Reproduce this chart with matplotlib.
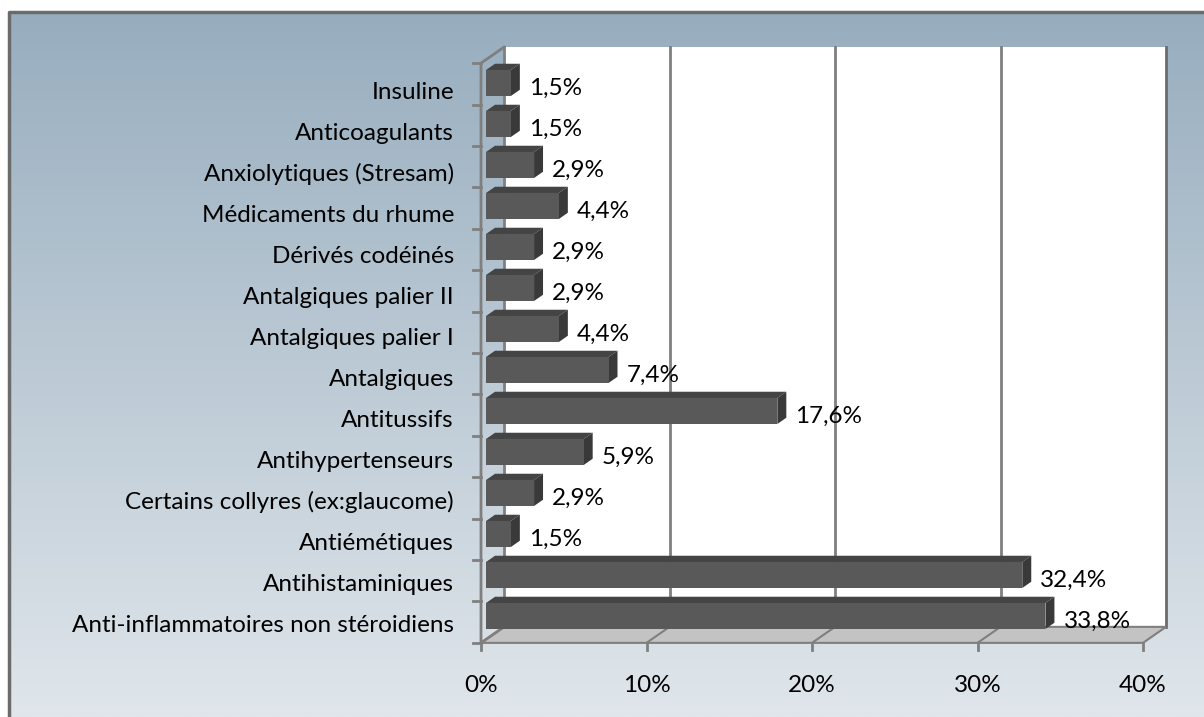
import matplotlib.pyplot as plt
import numpy as np
from matplotlib.patches import Polygon, Rectangle

plt.rcParams['font.family'] = ['Lato', 'DejaVu Sans']
fs = 17.5

# top to bottom, as in the picture
categories = ["Insuline", "Anticoagulants", "Anxiolytiques (Stresam)",
              "Médicaments du rhume", "Dérivés codéinés", "Antalgiques palier II",
              "Antalgiques palier I", "Antalgiques", "Antitussifs",
              "Antihypertenseurs", "Certains collyres (ex:glaucome)",
              "Antiémétiques", "Antihistaminiques",
              "Anti-inflammatoires non stéroidiens"]
values = [1.5, 1.5, 2.9, 4.4, 2.9, 2.9, 4.4, 7.4, 17.6, 5.9, 2.9, 1.5, 32.4, 33.8]
value_labels = ["1,5%", "1,5%", "2,9%", "4,4%", "2,9%", "2,9%", "4,4%", "7,4%",
                "17,6%", "5,9%", "2,9%", "1,5%", "32,4%", "33,8%"]
xticks = [0, 10, 20, 30, 40]
xtick_labels = ["0%", "10%", "20%", "30%", "40%"]

W, H = 1204, 717
PX_X0, PX_PER_X = 481, 16.55     # pixel of 0 %, pixels per percent
PX_Y0, PX_PER_Y = 619.5, 41.0    # pixel of bottom category, pixels per category

def px2x(p):
    return (p - PX_X0) / PX_PER_X

def px2y(p):
    return (PX_Y0 - p) / PX_PER_Y

DX, DY = 23 / PX_PER_X, 16 / PX_PER_Y   # depth of the 3d box
Y0, Y1 = -0.57, 13.57
XMAX = 40
z0, z1 = 0.22, 0.61
hh = 0.317

fig = plt.figure(figsize=(W / 100, H / 100), dpi=100)
ax = fig.add_axes([0, 0, 1, 1])
ax.set_xlim(px2x(0), px2x(W))
ax.set_ylim(px2y(H), px2y(0))
ax.axis('off')

# background gradient and frame
grad = np.linspace(0, 1, 256).reshape(-1, 1)
top = np.array([0x97, 0xad, 0xbe]) / 255
bot = np.array([0xe0, 0xe6, 0xeb]) / 255
img = top + (bot - top) * grad[..., None]
ax.imshow(img, extent=(px2x(9), px2x(W), px2y(H), px2y(12)), aspect='auto', zorder=0)
ax.plot([px2x(9), px2x(9), px2x(W + 5)], [px2y(H + 5), px2y(12), px2y(12)],
        color='#6b6b6b', lw=2.5, zorder=1)

edge = '#7f7f7f'
# back wall
ax.add_patch(Rectangle((DX, Y0 + DY), XMAX, Y1 - Y0, facecolor='white',
                       edgecolor='none', zorder=2))
ax.plot([XMAX + DX, XMAX + DX], [Y0 + DY, Y1 + DY], color='#6b6b6b', lw=2, zorder=3)
for t in xticks[1:-1]:
    ax.plot([t + DX, t + DX], [Y0 + DY, Y1 + DY], color=edge, lw=2, zorder=3)
# floor
ax.add_patch(Polygon([(0, Y0), (XMAX, Y0), (XMAX + DX, Y0 + DY), (DX, Y0 + DY)],
                     closed=True, facecolor='#c3c3c3', edgecolor=edge, lw=1.5, zorder=3))
for t in xticks[1:-1]:
    ax.plot([t, t + DX], [Y0, Y0 + DY], color=edge, lw=1.5, zorder=3)
# left wall
ax.plot([DX, DX], [Y0 + DY, Y1 + DY], color=edge, lw=2, zorder=3)
ax.plot([0, 0, DX], [Y0, Y1, Y1 + DY], color=edge, lw=2, zorder=3)
ax.plot([0, DX], [Y0, Y0 + DY], color=edge, lw=2, zorder=3)

# ticks
for yt in np.linspace(Y0, Y1, len(categories) + 1):
    ax.plot([px2x(PX_X0 - 8), 0], [yt, yt], color=edge, lw=2, zorder=3)
for t, lab in zip(xticks, xtick_labels):
    ax.plot([t, t], [Y0, Y0 - 7 / PX_PER_Y], color=edge, lw=2, zorder=3)
    ax.text(t, px2y(686), lab, ha='center', va='center', fontsize=fs, color='black')

# bars
n = len(categories)
ypos = np.arange(n)[::-1]
vals = np.array(values)
d = z1 - z0
front_y = ypos + z0 * DY
ax.barh(front_y, vals, height=2 * hh, left=z0 * DX, color='#595959', zorder=5)
for y, v in zip(front_y, vals):
    xl, xr = z0 * DX, z0 * DX + v
    yb, yt = y - hh, y + hh
    ax.add_patch(Polygon([(xl, yt), (xr, yt), (xr + d * DX, yt + d * DY), (xl + d * DX, yt + d * DY)],
                         closed=True, facecolor='#444444', edgecolor='none', zorder=4))
    ax.add_patch(Polygon([(xr, yb), (xr, yt), (xr + d * DX, yt + d * DY), (xr + d * DX, yb + d * DY)],
                         closed=True, facecolor='#393939', edgecolor='none', zorder=4))

for y, v, lab in zip(ypos, vals, value_labels):
    ax.text(z1 * DX + v + 0.55, y - 0.05, lab, ha='left', va='center', fontsize=fs, zorder=6)

for y, c in zip(ypos, categories):
    ax.text(px2x(454), y - 0.14, c, ha='right', va='center', fontsize=fs, zorder=6)

fig.savefig('out.png', dpi=100)
